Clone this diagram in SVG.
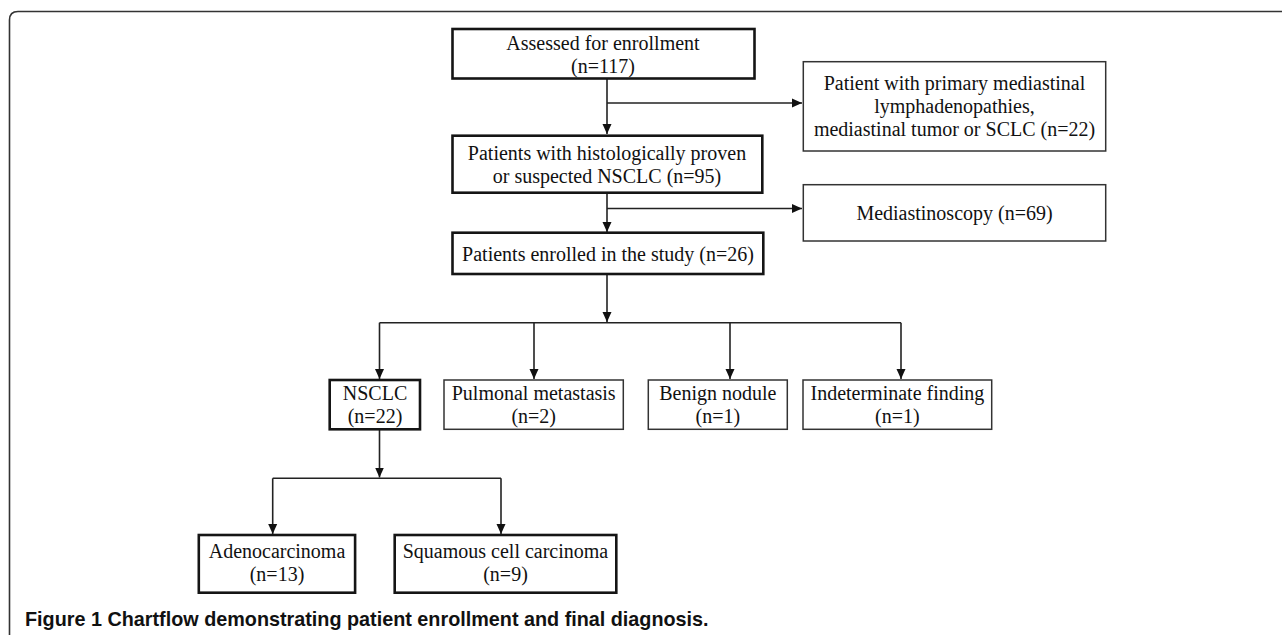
<svg xmlns="http://www.w3.org/2000/svg" width="1282" height="635" viewBox="0 0 1282 635">
<style>
.t{font-family:"Liberation Serif","Times New Roman",serif;font-size:20px;fill:#111;text-anchor:middle}
.thick{fill:#fff;stroke:#151515;stroke-width:2.6}
.thin{fill:#fff;stroke:#333;stroke-width:1.5}
.c{fill:none;stroke:#222;stroke-width:1.6}
.cap{font-family:"Liberation Sans",Arial,sans-serif;font-size:19.8px;font-weight:bold;fill:#111}
</style>
<defs>
<marker id="ah" markerUnits="userSpaceOnUse" markerWidth="10" markerHeight="11" viewBox="0 0 10 11" refX="10" refY="5.5" orient="auto">
<path d="M0,1 L10,5.5 L0,10 Z" fill="#111"/>
</marker>
</defs>
<rect width="1282" height="635" fill="#fff"/>
<path d="M9.5,635 V20 Q9.5,11.5 18,11.5 H1282" fill="none" stroke="#333" stroke-width="1.6"/>

<g id="connectors">
<path class="c" d="M607,78 V134" marker-end="url(#ah)"/>
<path class="c" d="M607,103 H802" marker-end="url(#ah)"/>
<path class="c" d="M607,193 V232" marker-end="url(#ah)"/>
<path class="c" d="M607,208.5 H802" marker-end="url(#ah)"/>
<path class="c" d="M607,274 V322" marker-end="url(#ah)"/>
<path class="c" d="M379.5,322.7 H901"/>
<path class="c" d="M379.5,322.7 V379" marker-end="url(#ah)"/>
<path class="c" d="M534,322.7 V379" marker-end="url(#ah)"/>
<path class="c" d="M730,322.7 V379" marker-end="url(#ah)"/>
<path class="c" d="M901,322.7 V379" marker-end="url(#ah)"/>
<path class="c" d="M379.5,430 V477.5" marker-end="url(#ah)"/>
<path class="c" d="M272.7,478.3 H501"/>
<path class="c" d="M272.7,478.3 V534" marker-end="url(#ah)"/>
<path class="c" d="M501,478.3 V534" marker-end="url(#ah)"/>
</g>

<g id="assessed">
<rect class="thick" x="452.5" y="29" width="302" height="49.5"/>
<text class="t" x="603" y="49.5">Assessed for enrollment</text>
<text class="t" x="603" y="72.5">(n=117)</text>
</g>
<g id="excluded1">
<rect class="thin" x="803.3" y="61.7" width="302.4" height="89.3"/>
<text class="t" x="954.5" y="90">Patient with primary mediastinal</text>
<text class="t" x="954.5" y="113">lymphadenopathies,</text>
<text class="t" x="954.5" y="136">mediastinal tumor or SCLC (n=22)</text>
</g>
<g id="suspected">
<rect class="thick" x="452.5" y="135.7" width="309.8" height="57"/>
<text class="t" x="607" y="159.5">Patients with histologically proven</text>
<text class="t" x="607" y="182.5">or suspected NSCLC (n=95)</text>
</g>
<g id="mediastinoscopy">
<rect class="thin" x="803.3" y="184.7" width="302.4" height="56.3"/>
<text class="t" x="954.5" y="219.5">Mediastinoscopy (n=69)</text>
</g>
<g id="enrolled">
<rect class="thick" x="452.5" y="232.7" width="310.8" height="41.3"/>
<text class="t" x="608" y="260.5">Patients enrolled in the study (n=26)</text>
</g>
<g id="nsclc">
<rect class="thick" x="329.7" y="380" width="90.3" height="49.3"/>
<text class="t" x="375" y="400">NSCLC</text>
<text class="t" x="375" y="423">(n=22)</text>
</g>
<g id="pulmonal">
<rect class="thin" x="444" y="380" width="179.3" height="49.3"/>
<text class="t" x="533.7" y="400">Pulmonal metastasis</text>
<text class="t" x="533.7" y="423">(n=2)</text>
</g>
<g id="benign">
<rect class="thin" x="648.3" y="380" width="139" height="49.3"/>
<text class="t" x="717.8" y="400">Benign nodule</text>
<text class="t" x="717.8" y="423">(n=1)</text>
</g>
<g id="indeterminate">
<rect class="thin" x="803" y="380" width="188.7" height="49.3"/>
<text class="t" x="897.4" y="400">Indeterminate finding</text>
<text class="t" x="897.4" y="423">(n=1)</text>
</g>
<g id="adeno">
<rect class="thick" x="198.8" y="535" width="156.3" height="57.7"/>
<text class="t" x="277" y="558">Adenocarcinoma</text>
<text class="t" x="277" y="581">(n=13)</text>
</g>
<g id="squamous">
<rect class="thick" x="394.7" y="535" width="221.6" height="57.7"/>
<text class="t" x="505.5" y="558">Squamous cell carcinoma</text>
<text class="t" x="505.5" y="581">(n=9)</text>
</g>
<text class="cap" x="25" y="625.5">Figure 1 Chartflow demonstrating patient enrollment and final diagnosis.</text>
</svg>
